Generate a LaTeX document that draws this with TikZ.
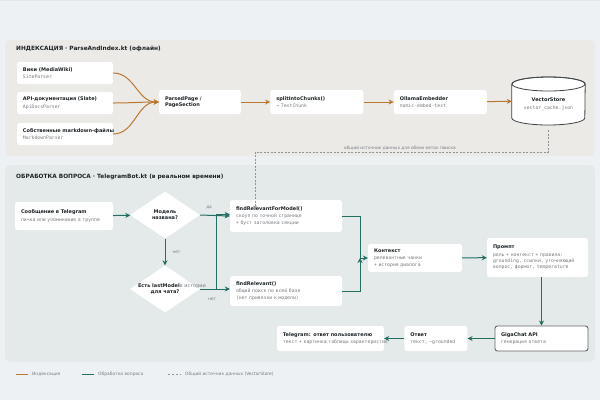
\documentclass[tikz,border=0pt]{standalone}
\usepackage{fontspec}
\setmainfont{DejaVu Sans}
\setmonofont{DejaVu Sans Mono}
\usepackage{xcolor}
\usepackage{tikz}
\usetikzlibrary{arrows.meta,positioning,shapes.geometric,calc}
\definecolor{PageBg}{HTML}{EEF1F4}
\definecolor{GridLine}{HTML}{E4E8EC}
\definecolor{IdxPanel}{HTML}{ECEAE6}
\definecolor{QaPanel}{HTML}{E3E9E9}
\definecolor{IdxOrange}{HTML}{B9772F}
\definecolor{QaTeal}{HTML}{226E60}
\definecolor{TxtDark}{HTML}{1E2326}
\definecolor{TxtGray}{HTML}{767B80}
\definecolor{DashGray}{HTML}{8E9398}
\newcommand{\cardsub}[1]{\mbox{\fontsize{4.8}{6}\selectfont\ttfamily\color{TxtGray}#1}}
\newcommand{\cardtitle}[1]{\mbox{\textbf{#1}}}
\tikzset{
  panel/.style={rounded corners=6pt,draw=none,fill opacity=0.9},
  paneltitle/.style={anchor=west,font=\fontsize{5.8}{7}\selectfont\bfseries,text=TxtDark,inner sep=0pt},
  cardbox/.style={fill=white,rounded corners=2.5pt,align=left,inner xsep=6pt,inner ysep=0pt,
    font=\fontsize{5}{6.4}\selectfont,text=TxtDark},
  choice/.style={diamond,fill=white,inner sep=0pt,align=center,font=\fontsize{5}{6.4}\selectfont\bfseries,text=TxtDark},
  idxarrow/.style={-{Stealth[length=5pt,width=5pt]},line width=1pt,draw=IdxOrange},
  qaarrow/.style={-{Stealth[length=5pt,width=5pt]},line width=1pt,draw=QaTeal},
  sharedlink/.style={-{Stealth[length=4pt,width=4pt]},dash pattern=on 2pt off 1.5pt,line width=0.6pt,draw=DashGray},
  edgelabel/.style={font=\fontsize{4.3}{5}\selectfont,text=TxtGray,inner sep=1pt},
  legendtext/.style={anchor=west,font=\fontsize{4.4}{5}\selectfont,text=TxtGray,inner sep=0pt}
}

\begin{document}
\begin{tikzpicture}[x=1pt,y=-1pt]
\useasboundingbox (0,0) rectangle (600,400);
\fill[PageBg] (0,0) rectangle (600,400);
\draw[GridLine,line width=0.4pt,step=20pt] (0,-400) grid (600,0);

% panels
\fill[panel,IdxPanel] (5,40) rectangle (595,156);
\fill[panel,QaPanel] (5,165) rectangle (595,362);
\node[paneltitle] (idxtitle) at (16,49) {ИНДЕКСАЦИЯ · ParseAndIndex.kt (офлайн)};
\node[paneltitle] (qatitle) at (16,177) {ОБРАБОТКА ВОПРОСА · TelegramBot.kt (в реальном времени)};

% indexing
\node[cardbox,minimum width=96pt,minimum height=22pt,text width=84pt] (wiki) at (65,73) {\cardtitle{Вики (MediaWiki)}\\[1pt]\cardsub{SiteParser}};
\node[cardbox,minimum width=96pt,minimum height=22pt,text width=84pt] (apidoc) at (65,103) {\cardtitle{API-документация (Slate)}\\[1pt]\cardsub{ApiDocsParser}};
\node[cardbox,minimum width=96pt,minimum height=22pt,text width=84pt] (owndoc) at (65,134) {\cardtitle{Собственные markdown-файлы}\\[1pt]\cardsub{MarkdownParser}};
\node[cardbox,minimum width=82pt,minimum height=24pt,text width=70pt] (parsed) at (200,102) {\cardtitle{ParsedPage /}\\\cardtitle{PageSection}};
\node[cardbox,minimum width=93pt,minimum height=24pt,text width=81pt,right=29pt of parsed] (split) {\cardtitle{splitIntoChunks()}\\[1pt]\cardsub{→ TextChunk}};
\node[cardbox,minimum width=93pt,minimum height=24pt,text width=81pt,right=30pt of split] (ollama) {\cardtitle{OllamaEmbedder}\\[1pt]\cardsub{nomic-embed-text}};
\node[minimum width=73pt,minimum height=48pt,inner sep=0pt] (vstore) at (548.5,101) {};
\filldraw[fill=white,draw=TxtDark!85,line width=0.8pt]
  (vstore.west |- 0,84) -- (vstore.west |- 0,118) arc[start angle=180,end angle=360,x radius=36.5pt,y radius=7pt]
  -- (vstore.east |- 0,84) arc[start angle=0,end angle=180,x radius=36.5pt,y radius=7pt] -- cycle;
\draw[TxtDark!85,line width=0.8pt] (548.5,84) ellipse[x radius=36.5pt,y radius=7pt];
\node[align=center,font=\fontsize{5}{6.4}\selectfont,text=TxtDark,inner sep=0pt] (vstorelabel) at (548.5,104) {\cardtitle{VectorStore}\\[1.5pt]\cardsub{vector\_cache.json}};

\draw[idxarrow] (wiki.east) to[out=0,in=180] (parsed.west);
\draw[idxarrow] (apidoc.east) to[out=0,in=180] (parsed.west);
\draw[idxarrow] (owndoc.east) to[out=0,in=180] (parsed.west);
\draw[idxarrow] (parsed) -- (split);
\draw[idxarrow] (split) -- (ollama);
\draw[idxarrow] (ollama) -- (vstore);

% question handling
\node[cardbox,minimum width=98pt,minimum height=28pt,text width=86pt] (tgmsg) at (64,216) {\cardtitle{Сообщение в Telegram}\\[1pt]\cardsub{личка или упоминание в группе}};
\node[choice,minimum width=70pt,minimum height=47pt] (named) at (165,215) {Модель\\названа?};
\node[choice,minimum width=70pt,minimum height=47pt] (lastmodel) at (165,289) {\makebox[0pt]{\hspace{14pt}Есть lastModel{\mdseries\color{TxtGray} в истории}}\\\makebox[0pt]{для чата?}};
\node[cardbox,minimum width=112pt,minimum height=32pt,text width=100pt] (frm) at (286,216) {\cardtitle{findRelevantForModel()}\\[1pt]\cardsub{скоуп по точной странице}\\\cardsub{+ буст заголовка секции}};
\node[cardbox,minimum width=112pt,minimum height=30pt,text width=100pt] (frel) at (286,291) {\cardtitle{findRelevant()}\\[1pt]\cardsub{общий поиск по всей базе}\\\cardsub{(нет привязки к модели)}};
\node[cardbox,minimum width=94pt,minimum height=28pt,text width=82pt] (ctx) at (415,258) {\cardtitle{Контекст}\\[1pt]\cardsub{релевантные чанки}\\\cardsub{+ история диалога}};
\node[cardbox,minimum width=101pt,minimum height=39pt,text width=89pt] (prompt) at (537.5,257.5) {\cardtitle{Промпт}\\[1pt]\cardsub{роль + контекст + правила:}\\\cardsub{grounding, ссылки, уточняющий}\\\cardsub{вопрос, формат, temperature}};
\node[cardbox,draw=TxtDark!70,line width=0.9pt,minimum width=93pt,minimum height=25pt,text width=81pt] (giga) at (541.5,338.5) {\cardtitle{GigaChat API}\\[1pt]\cardsub{генерация ответа}};
\node[cardbox,minimum width=63pt,minimum height=25pt,text width=51pt,left=27pt of giga] (answer) {\cardtitle{Ответ}\\[1pt]\cardsub{текст, \textasciitilde grounded}};
\node[cardbox,minimum width=107pt,minimum height=25pt,text width=95pt,left=20pt of answer] (tgans) {\cardtitle{Telegram: ответ пользователю}\\[1pt]\cardsub{текст + картинка таблицы характеристик}};

\coordinate (joinleft) at (216,0);
\coordinate (joinright) at (360,0);
\draw[qaarrow] (tgmsg) -- (named);
\draw[qaarrow] (named.east) -- (frm.west) node[edgelabel,pos=0.3,above=5pt] {да};
\draw[qaarrow] (named.south) -- (lastmodel.north) node[edgelabel,midway,right=6pt] {нет};
\draw[qaarrow] (lastmodel.east) -- (joinleft |- lastmodel.east) |- ([yshift=1.5pt]frm.west);
\draw[qaarrow] (lastmodel.east) -- (frel.west |- lastmodel.east) node[edgelabel,pos=0.4,below=8pt] {нет};
\draw[qaarrow] (frm.east) -| (joinright |- ctx.west) -- (ctx.west);
\draw[qaarrow] (frel.east) -| (joinright |- ctx.west);
\draw[qaarrow] (ctx) -- (prompt);
\draw[qaarrow] (giga.north |- prompt.south) -- (giga.north);
\draw[qaarrow] (giga) -- (answer);
\draw[qaarrow] (answer) -- (tgans);

% shared data source
\coordinate (dashturn) at (255,152);
\draw[sharedlink] ([yshift=-5pt]vstore.south) |- (dashturn) -- ([yshift=-10pt]dashturn |- frm.north);
\node[edgelabel,above=0pt] (sharedlabel) at (400,151) {общий источник данных для обеих веток поиска};

% legend
\draw[IdxOrange,line width=1pt] (16,374) -- (28,374) coordinate (legidx);
\node[legendtext] (legidxtext) at (32,374) {Индексация};
\draw[QaTeal,line width=1pt] (82,374) -- (94,374) coordinate (legqa);
\node[legendtext] (legqatext) at (98,374) {Обработка вопроса};
\draw[DashGray,line width=0.7pt,dash pattern=on 2pt off 2pt] (168,374) -- (181,374) coordinate (legshared);
\node[legendtext] (legsharedtext) at (185,374) {Общий источник данных (VectorStore)};
\end{tikzpicture}
\end{document}
